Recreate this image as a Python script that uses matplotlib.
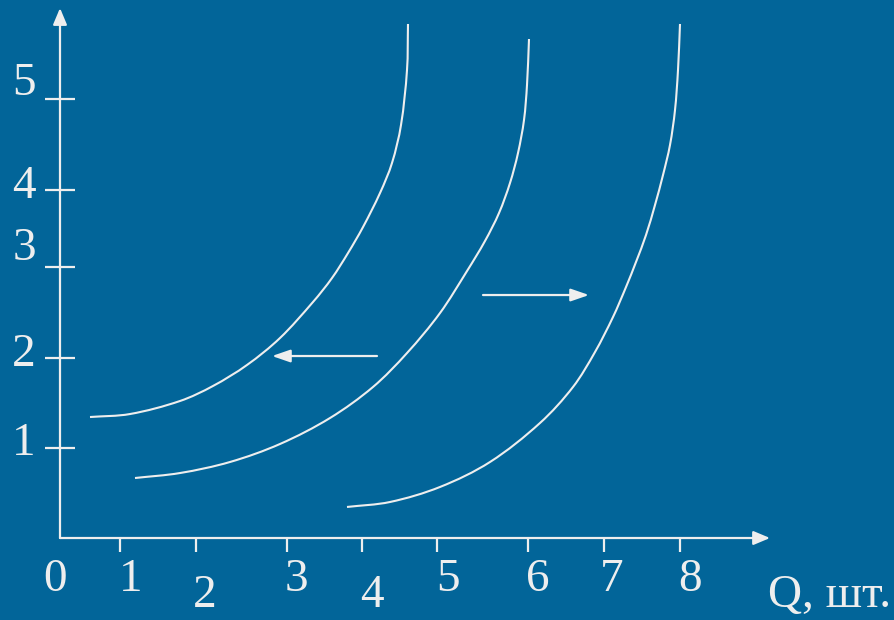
import matplotlib
matplotlib.use("Agg")
import matplotlib.pyplot as plt
from matplotlib.patches import FancyArrowPatch, PathPatch
from matplotlib.path import Path

# ---------------- data ----------------
x_tick_labels = ["1", "2", "3", "4", "5", "6", "7", "8"]
x_tick_pos = [0.75, 1.7, 2.84, 3.78, 4.71, 5.85, 6.8, 7.75]
y_tick_labels = ["1", "2", "3", "4", "5"]
y_tick_pos = [1.0, 1.99, 2.99, 3.85, 4.85]
x_axis_label = "Q, шт."

# supply curve S1 (shifted left)
s1_q = [0.375, 0.875, 1.5, 1.9125, 2.3375, 2.75, 3.1625, 3.4, 3.6, 3.7875, 4.0, 4.15, 4.2625, 4.3375, 4.35]
s1_p = [1.337, 1.370, 1.514, 1.680, 1.912, 2.210, 2.608, 2.873, 3.149, 3.436, 3.812, 4.144, 4.564, 5.171, 5.680]
# supply curve S0 (original)
s0_q = [0.9375, 1.5, 2.125, 2.75, 3.375, 3.9125, 4.3375, 4.75, 5.0875, 5.3125, 5.4875, 5.625, 5.725, 5.8, 5.8375, 5.8625]
s0_p = [0.663, 0.718, 0.840, 1.039, 1.326, 1.669, 2.044, 2.486, 2.950, 3.282, 3.591, 3.923, 4.254, 4.619, 5.006, 5.514]
# supply curve S2 (shifted right)
s2_q = [3.5875, 4.125, 4.75, 5.375, 6.0, 6.4125, 6.6875, 6.9125, 7.075, 7.2, 7.325, 7.4375, 7.5375, 7.625, 7.6875, 7.725, 7.75]
s2_p = [0.343, 0.398, 0.564, 0.840, 1.271, 1.669, 2.055, 2.442, 2.773, 3.050, 3.348, 3.680, 4.011, 4.343, 4.729, 5.171, 5.680]

# shift arrows: (x_start, x_end, y)
shift_left = (3.9625, 2.65, 2.011)
shift_right = (5.2875, 6.6125, 2.685)

# ---------------- style / layout ----------------
BG = "#026599"
FG = "#EEEEEE"
FONT = ["Liberation Serif", "DejaVu Serif"]
FS = 34

fig = plt.figure(figsize=(8.95, 6.2), dpi=100, facecolor=BG)
ax = fig.add_axes([0, 0, 1, 1])
ax.set_facecolor(BG)
ax.set_xlim(-0.75, 10.4375)
ax.set_ylim(-0.906, 5.945)
ax.axis("off")


def smooth_path(xs, ys):
    """Smooth cubic path through the given points (tangents computed in
    display space so the unequal axis scales do not matter)."""
    disp = ax.transData.transform(list(zip(xs, ys)))
    pts = [tuple(p) for p in disp]
    n = len(pts)
    verts = [pts[0]]
    codes = [Path.MOVETO]

    def dist(a, b):
        return ((a[0] - b[0]) ** 2 + (a[1] - b[1]) ** 2) ** 0.5

    def tangent(i):
        if i == 0:
            a, b = pts[0], pts[1]
        elif i == n - 1:
            a, b = pts[n - 2], pts[n - 1]
        else:
            a, b = pts[i - 1], pts[i + 1]
        d = dist(a, b) or 1.0
        return ((b[0] - a[0]) / d, (b[1] - a[1]) / d)

    for i in range(n - 1):
        p1, p2 = pts[i], pts[i + 1]
        seg = dist(p1, p2)
        t1, t2 = tangent(i), tangent(i + 1)
        c1 = (p1[0] + t1[0] * seg / 3.0, p1[1] + t1[1] * seg / 3.0)
        c2 = (p2[0] - t2[0] * seg / 3.0, p2[1] - t2[1] * seg / 3.0)
        verts += [c1, c2, p2]
        codes += [Path.CURVE4] * 3
    inv = ax.transData.inverted()
    return Path(inv.transform(verts), codes)


# axes with arrows
x_end = 8.875
y_end = 5.856
ax.add_patch(FancyArrowPatch((0, 0), (x_end, 0), arrowstyle="-|>,head_length=1.0,head_width=0.42",
                             mutation_scale=10, color=FG, lw=1.6, shrinkA=0, shrinkB=0))
ax.add_patch(FancyArrowPatch((0, 0), (0, y_end), arrowstyle="-|>,head_length=1.0,head_width=0.42",
                             mutation_scale=10, color=FG, lw=1.6, shrinkA=0, shrinkB=0))

# ticks
for xp in x_tick_pos:
    ax.plot([xp, xp], [0, -0.155], color=FG, lw=1.6, solid_capstyle="butt")
for yp in y_tick_pos:
    ax.plot([-0.1875, 0.1875], [yp, yp], color=FG, lw=1.6, solid_capstyle="butt")

# tick labels (placed as in the original drawing)
x_label_dx = [0.1375, 0.1125, 0.11, 0.12, 0.14, 0.125, 0.1, 0.125]
x_label_y = [-0.464, -0.641, -0.464, -0.641, -0.464, -0.464, -0.464, -0.464]
for lab, xp, dx, ly in zip(x_tick_labels, x_tick_pos, x_label_dx, x_label_y):
    ax.text(xp + dx, ly, lab, color=FG, fontsize=FS, family=FONT, ha="center", va="center")
ax.text(-0.0625, -0.464, "0", color=FG, fontsize=FS, family=FONT, ha="center", va="center")

y_label_dy = [0.04, 0.04, 0.21, 0.03, 0.17]
for lab, yp, dy in zip(y_tick_labels, y_tick_pos, y_label_dy):
    ax.text(-0.45, yp + dy, lab, color=FG, fontsize=FS, family=FONT, ha="center", va="center")

ax.text(9.625, -0.641, x_axis_label, color=FG, fontsize=FS, family=FONT, ha="center", va="center")

# curves
for q, p in [(s1_q, s1_p), (s0_q, s0_p), (s2_q, s2_p)]:
    ax.add_patch(PathPatch(smooth_path(q, p), facecolor="none", edgecolor=FG, lw=1.5,
                           capstyle="butt"))

# shift arrows
for xs, xe, yy in [shift_left, shift_right]:
    ax.add_patch(FancyArrowPatch((xs, yy), (xe, yy), arrowstyle="-|>,head_length=1.1,head_width=0.38",
                                 mutation_scale=10, color=FG, lw=1.6, shrinkA=0, shrinkB=0))

fig.savefig("out.png", dpi=100, facecolor=BG)
